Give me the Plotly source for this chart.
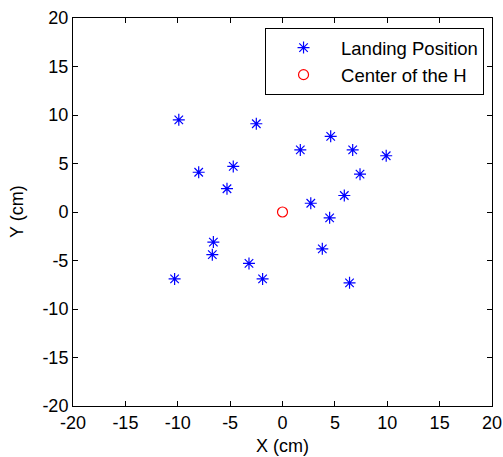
import plotly.graph_objects as go

landing_x = [-9.9, -2.5, -8.0, -4.7, -5.3, 1.7, 4.6, 6.7, 9.9, 7.4, 5.9, 2.7, 4.5,
             -6.6, -6.7, -3.2, -10.3, -1.9, 3.8, 6.4]
landing_y = [9.5, 9.1, 4.1, 4.7, 2.4, 6.4, 7.8, 6.4, 5.8, 3.9, 1.7, 0.9, -0.6,
             -3.1, -4.4, -5.3, -6.9, -6.9, -3.8, -7.3]
center_x = [0]
center_y = [0]
ticks = [-20, -15, -10, -5, 0, 5, 10, 15, 20]
tick_labels = ["-20", "-15", "-10", "-5", "0", "5", "10", "15", "20"]

fig = go.Figure()
fig.add_trace(go.Scatter(x=landing_x, y=landing_y, mode="markers", name="Landing Position",
                         marker=dict(symbol="asterisk-open", size=10, color="blue",
                                     line=dict(color="blue", width=1.2))))
fig.add_trace(go.Scatter(x=center_x, y=center_y, mode="markers", name="Center of the H",
                         marker=dict(symbol="circle-open", size=10, color="red",
                                     line=dict(color="red", width=1.2))))

axis_common = dict(tickvals=ticks, ticktext=tick_labels, ticks="inside", ticklen=5, tickcolor="black",
                   showline=True, linecolor="black", linewidth=1, mirror="ticks",
                   showgrid=False, zeroline=False, range=[-20, 20], automargin=False,
                   tickfont=dict(size=18, color="black", family="Liberation Sans"))
fig.update_xaxes(**axis_common)
fig.update_yaxes(**axis_common)

fig.add_annotation(text="X (cm)", xref="paper", yref="paper", x=0.5, y=0,
                   xanchor="center", yanchor="middle", yshift=-40, showarrow=False,
                   font=dict(size=18, color="black", family="Liberation Sans"))
fig.add_annotation(text="Y (cm)", xref="paper", yref="paper", x=0, y=0.5,
                   xanchor="center", yanchor="middle", xshift=-56, textangle=-90, showarrow=False,
                   font=dict(size=18, color="black", family="Liberation Sans"))

fig.update_layout(
    width=503, height=457,
    margin=dict(l=73, r=11, t=18, b=51),
    paper_bgcolor="white", plot_bgcolor="white",
    font=dict(family="Liberation Sans", color="black", size=18),
    showlegend=True,
    legend=dict(x=0.981, y=0.974, xanchor="right", yanchor="top",
                bordercolor="black", borderwidth=1, bgcolor="white",
                font=dict(size=18.5, color="black"), itemwidth=65,
                tracegroupgap=0),
)
fig.write_html("out.html", config={"displayModeBar": False},
               post_script="document.body.style.margin='0';document.body.style.overflow='hidden';")
